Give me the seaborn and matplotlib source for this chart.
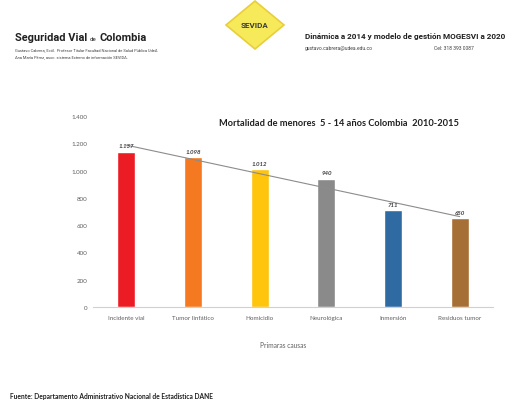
import matplotlib
matplotlib.use("Agg")
import matplotlib.pyplot as plt
import seaborn as sns
import numpy as np
import pandas as pd
from matplotlib.patches import Polygon

categories = ["Incidente vial", "Tumor linfático", "Homicidio", "Neurológica", "Inmersión", "Residuos tumor"]
values = [1137, 1098, 1012, 940, 711, 650]
colors = ["#EC1C24", "#F47920", "#FFC40C", "#8A8A8A", "#2F6AA3", "#A66F35"]
yticks = [0, 200, 400, 600, 800, 1000, 1200, 1400]

def fmt(v):
    return f"{v:,}".replace(",", ".")

sns.set_theme(style="white")
plt.rcParams['font.family'] = ['Lato', 'DejaVu Sans']

df = pd.DataFrame({"causa": categories, "muertes": values})

fig = plt.figure(figsize=(5.21, 4.02), dpi=100)
fig.patch.set_facecolor("white")
ax = fig.add_axes([93/521, 94/402, 400/521, 191/402])

sns.barplot(data=df, x="causa", y="muertes", hue="causa", palette=colors,
            width=0.27, legend=False, ax=ax, saturation=1)

# linear trend
xs = np.arange(len(values))
m, b = np.polyfit(xs, values, 1)
ax.plot([xs[0], xs[-1]], [m*xs[0]+b, m*xs[-1]+b], color="#8C8C8C", lw=0.8)

for i, v in enumerate(values):
    ax.text(i, v + 25, fmt(v), ha="center", va="bottom", fontsize=4.4,
            color="#404040", fontweight="bold", fontstyle="italic")

ax.set_ylim(0, 1400)
ax.set_xlim(-0.5, len(values) - 0.5)
ax.set_yticks(yticks)
ax.set_yticklabels([fmt(t) for t in yticks], fontsize=4.5, color="#606060")
ax.tick_params(axis="x", labelsize=4.5, labelcolor="#606060", length=0, pad=6)
ax.tick_params(axis="y", length=0, pad=4)
ax.set_xlabel("")
ax.set_ylabel("")
for s in ["top", "right", "left"]:
    ax.spines[s].set_visible(False)
ax.spines["bottom"].set_color("#D0D0D0")
ax.spines["bottom"].set_linewidth(0.8)

fig.text(339/521, 1 - 123/402, "Mortalidad de menores  5 - 14 años Colombia  2010-2015",
         ha="center", va="center", fontsize=6.7, fontweight="bold", color="#202020")
fig.text(283/521, 1 - 346/402, "Primaras causas", ha="center", va="center",
         fontsize=4.8, color="#606060")
fig.text(10/521, 1 - 397/402, "Fuente: Departamento Administrativo Nacional de Estadística DANE",
         ha="left", va="center", fontsize=4.8, color="#202020", fontweight="bold")

# Header
hf = ['Roboto', 'DejaVu Sans']
fig.canvas.draw()
rend = fig.canvas.get_renderer()
t1 = fig.text(15/521, 1 - 41/402, "Seguridad Vial", ha="left", va="baseline", family=hf,
              fontsize=7.9, fontweight="bold", color="#202020")
bb = t1.get_window_extent(renderer=rend)
t2 = fig.text((bb.x1 + 2.5)/521, 1 - 41/402, "de", ha="left", va="baseline", fontsize=4.4,
              family=hf, color="#202020")
bb2 = t2.get_window_extent(renderer=rend)
fig.text((bb2.x1 + 2.5)/521, 1 - 41/402, "Colombia", ha="left", va="baseline", family=hf,
         fontsize=7.9, fontweight="bold", color="#202020")
fig.text(15/521, 1 - 50/402, "Gustavo Cabrera, Ecól.  Profesor Titular Facultad Nacional de Salud Pública UdeA",
         ha="left", va="center", fontsize=2.9, family=hf, color="#404040")
fig.text(15/521, 1 - 57/402, "Ana María Pérez, asoc. sistema Externo de información SEVIDA.",
         ha="left", va="center", fontsize=2.9, family=hf, color="#404040")

fig.text(305/521, 1 - 37/402, "Dinámica a 2014 y modelo de gestión MOGESVI a 2020",
         ha="left", va="center", fontsize=5.85, fontweight="bold", family=hf, color="#202020")
fig.text(305/521, 1 - 49/402, "gustavo.cabrera@udea.edu.co", ha="left", va="center",
         fontsize=3.6, family=hf, color="#404040")
fig.text(434/521, 1 - 49/402, "Cel: 318 393 0087", ha="left", va="center",
         fontsize=3.6, family=hf, color="#404040")

# SEVIDA logo
cx, cy, hw, hh = 255, 26, 29, 24
pts = [((cx)/521, 1 - (cy-hh)/402), ((cx+hw)/521, 1 - cy/402),
       (cx/521, 1 - (cy+hh)/402), ((cx-hw)/521, 1 - cy/402)]
fig.patches.append(Polygon(pts, closed=True, transform=fig.transFigure,
                           facecolor="#F7EA5A", edgecolor="#E8CF3A", lw=1.2))
fig.text(cx/521, 1 - cy/402, "SEVIDA", ha="center", va="center", fontsize=5.8,
         fontweight="bold", family=hf, color="#3A3A3A")

fig.savefig("out.png", dpi=100, facecolor="white")
